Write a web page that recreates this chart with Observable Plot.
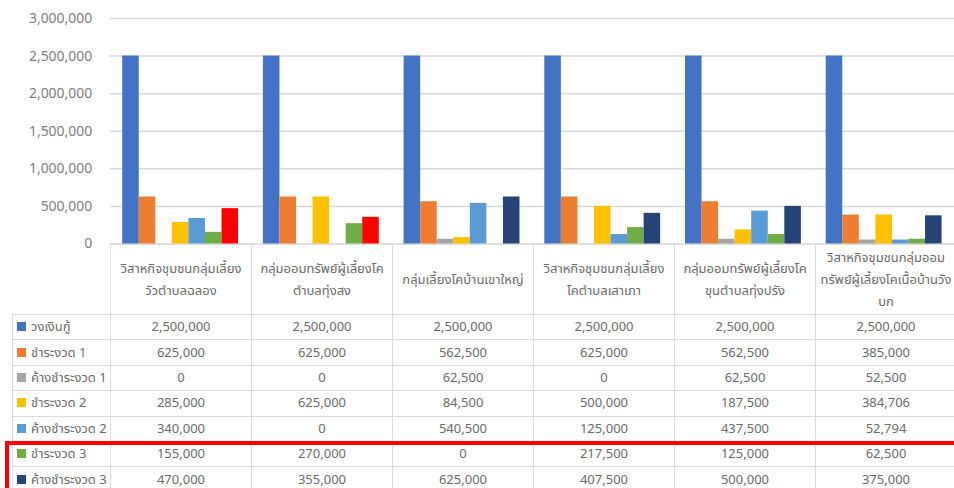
<!DOCTYPE html>
<html>
<head>
<meta charset="utf-8">
<script src="https://cdn.jsdelivr.net/npm/d3@7"></script>
<script src="https://cdn.jsdelivr.net/npm/@observablehq/plot@0.6"></script>
<style>
html, body { margin: 0; padding: 0; background: #fff; }
#wrap { position: relative; width: 954px; height: 488px; overflow: hidden;
  font-family: Tahoma, "Leelawadee UI", "Noto Sans Thai", "Noto Sans", "DejaVu Sans", sans-serif; }
#chart { position: absolute; left: 0; top: 0; }
#tbl { position: absolute; left: 12px; top: 244px; }
table { border-collapse: collapse; table-layout: fixed; font-size: 13px; color: #6b6b6b; }
td { border: 1px solid #dcdcdc; text-align: center; padding: 0; white-space: nowrap; }
td.corner { border: none; }
td.head { white-space: pre-line; line-height: 22px; height: 69px; vertical-align: middle; }
tr.data td { height: 24.4px; }
td.lab { text-align: left; padding-left: 4px; }
.key { display: inline-block; width: 9px; height: 9px; margin-right: 5px; vertical-align: 0px; }
#box { position: absolute; left: 5px; top: 441px; width: 980px; height: 80px;
  border: 4px solid #ff0000; box-sizing: border-box; }
</style>
</head>
<body>
<div id="wrap">
  <div id="chart"></div>
  <div id="tbl"></div>
  <div id="box"></div>
</div>
<script>
// ---- data ----
const categories = [
  "วิสาหกิจชุมชนกลุ่มเลี้ยง\nวัวตำบลฉลอง",
  "กลุ่มออมทรัพย์ผู้เลี้ยงโค\nตำบลทุ่งสง",
  "กลุ่มเลี้ยงโคบ้านเขาใหญ่",
  "วิสาหกิจชุมชนกลุ่มเลี้ยง\nโคตำบลเสาเภา",
  "กลุ่มออมทรัพย์ผู้เลี้ยงโค\nขุนตำบลทุ่งปรัง",
  "วิสาหกิจชุมชนกลุ่มออม\nทรัพย์ผู้เลี้ยงโคเนื้อบ้านวัง\nบก"
];
const seriesNames = ["วงเงินกู้", "ชำระงวด 1", "ค้างชำระงวด 1", "ชำระงวด 2", "ค้างชำระงวด 2", "ชำระงวด 3", "ค้างชำระงวด 3"];
const loanAmount  = [2500000, 2500000, 2500000, 2500000, 2500000, 2500000];
const paid1       = [625000, 625000, 562500, 625000, 562500, 385000];
const overdue1    = [0, 0, 62500, 0, 62500, 52500];
const paid2       = [285000, 625000, 84500, 500000, 187500, 384706];
const overdue2    = [340000, 0, 540500, 125000, 437500, 52794];
const paid3       = [155000, 270000, 0, 217500, 125000, 62500];
const overdue3    = [470000, 355000, 625000, 407500, 500000, 375000];
const yTicks = [0, 500000, 1000000, 1500000, 2000000, 2500000, 3000000];

// ---- styling ----
const seriesValues = [loanAmount, paid1, overdue1, paid2, overdue2, paid3, overdue3];
const seriesColors = ["#4472C4", "#ED7D31", "#A5A5A5", "#FFC000", "#5B9BD5", "#70AD47", "#264478"];
const highlightColor = "#FF0000";

const rows = [];
seriesNames.forEach((s, si) => {
  categories.forEach((c, ci) => {
    let color = seriesColors[si];
    if (si === 6 && ci < 2) color = highlightColor;
    rows.push({category: c, series: s, value: seriesValues[si][ci], color});
  });
});

const fmt = d3.format(",");
const font = 'Tahoma, "Leelawadee UI", "Noto Sans Thai", "Noto Sans", "DejaVu Sans", sans-serif';

const chart = Plot.plot({
  width: 956,
  height: 250,
  marginLeft: 110,
  marginRight: 0,
  marginTop: 18,
  marginBottom: 6,
  style: {fontFamily: font, fontSize: "14px", background: "transparent", overflow: "visible"},
  fx: {domain: categories, paddingInner: 0, paddingOuter: 0, round: false, axis: null, label: null},
  x: {domain: seriesNames, paddingInner: 0, paddingOuter: 0.75, round: false, axis: null},
  y: {domain: [0, 3000000], axis: null},
  color: {type: "identity"},
  marks: [
    Plot.gridY(yTicks, {stroke: "#d9d9d9", strokeOpacity: 1, strokeWidth: 1.5}),
    Plot.axisY(yTicks, {tickSize: 0, tickPadding: 18, tickFormat: fmt, fill: "#808080", fontSize: 14, label: null}),
    Plot.barY(rows.filter(d => d.value > 0), {fx: "category", x: "series", y: "value", fill: "color"})
  ]
});
document.getElementById("chart").appendChild(chart);

// ---- data table below the chart ----
const fxScale = chart.scale("fx");
const colW = fxScale.bandwidth;
const table = document.createElement("table");
const colgroup = document.createElement("colgroup");
const c0 = document.createElement("col"); c0.style.width = "98px"; colgroup.appendChild(c0);
categories.forEach(() => { const c = document.createElement("col"); c.style.width = colW + "px"; colgroup.appendChild(c); });
table.appendChild(colgroup);
table.style.width = (98 + colW * categories.length) + "px";

const head = document.createElement("tr");
const corner = document.createElement("td"); corner.className = "corner"; head.appendChild(corner);
categories.forEach(c => { const td = document.createElement("td"); td.className = "head"; td.textContent = c; head.appendChild(td); });
table.appendChild(head);

seriesNames.forEach((s, si) => {
  const tr = document.createElement("tr"); tr.className = "data";
  const lab = document.createElement("td"); lab.className = "lab";
  const key = document.createElement("span"); key.className = "key"; key.style.background = seriesColors[si];
  lab.appendChild(key); lab.appendChild(document.createTextNode(s));
  tr.appendChild(lab);
  seriesValues[si].forEach(v => { const td = document.createElement("td"); td.textContent = fmt(v); tr.appendChild(td); });
  table.appendChild(tr);
});
document.getElementById("tbl").appendChild(table);
</script>
</body>
</html>
